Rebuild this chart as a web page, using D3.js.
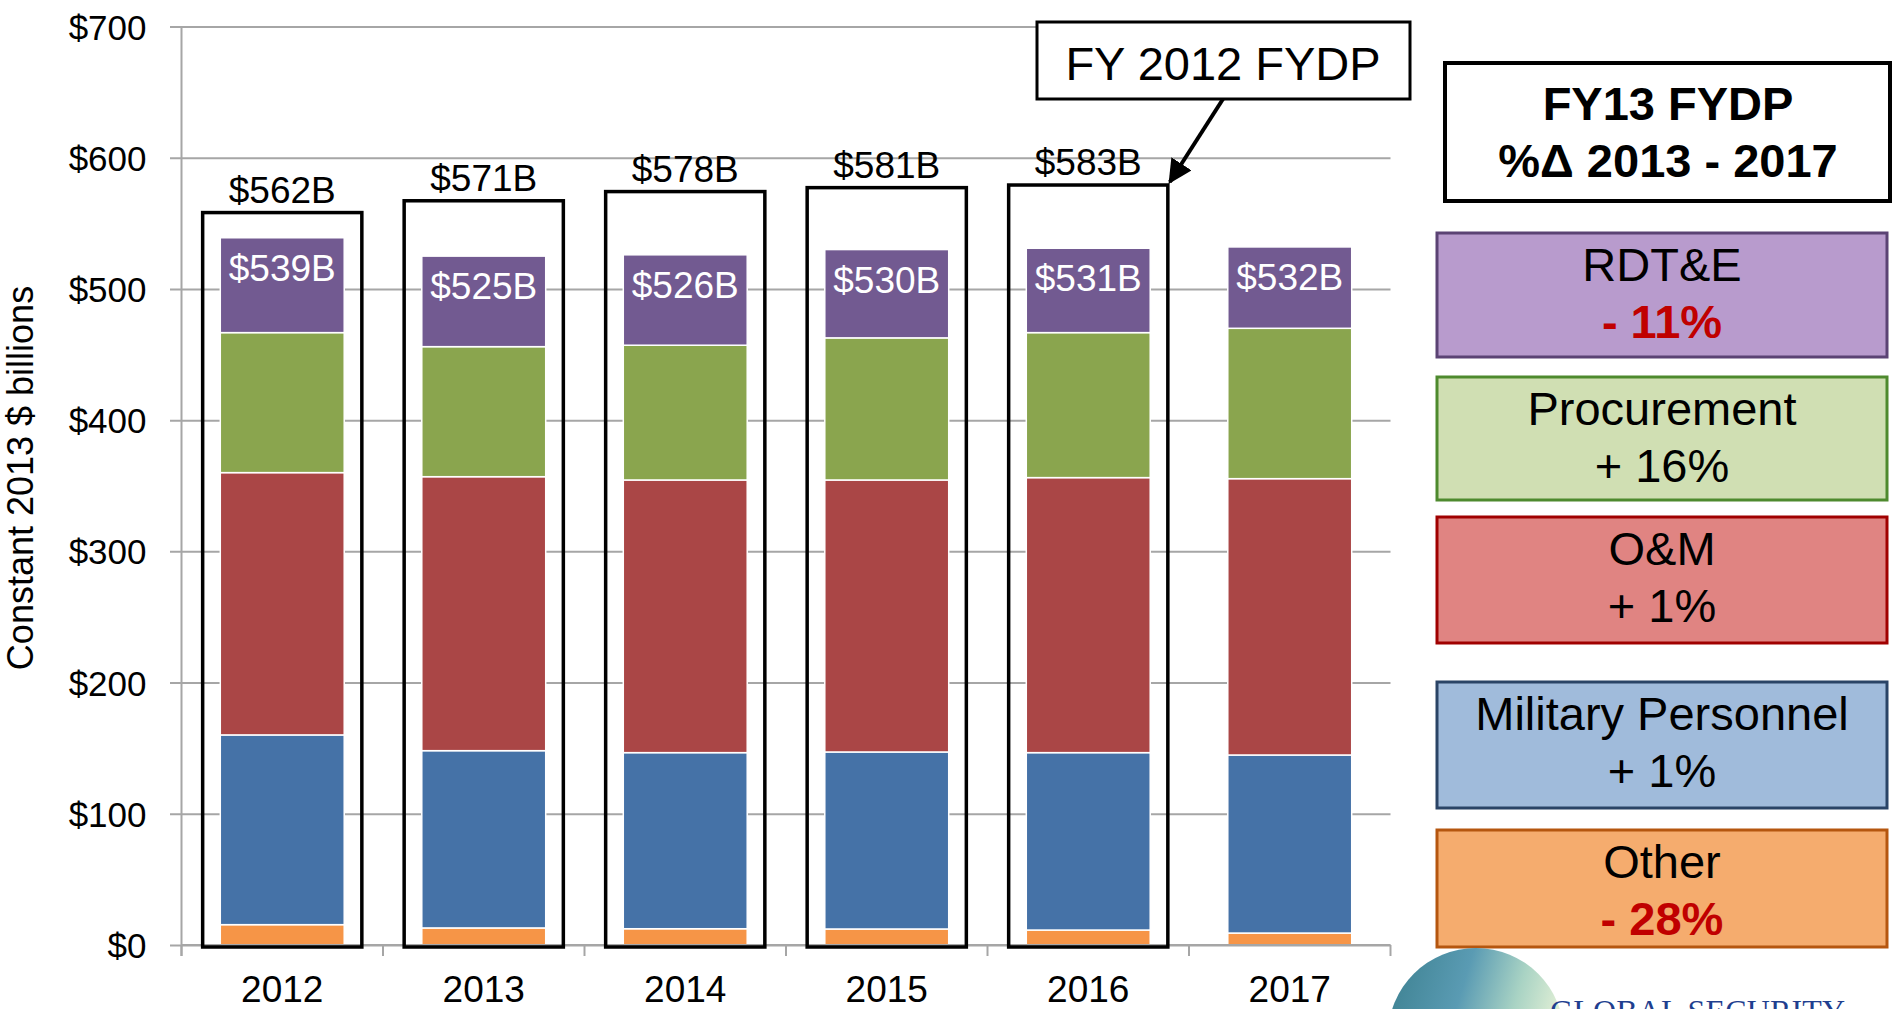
<!DOCTYPE html>
<html lang="en">
<head>
<meta charset="UTF-8">
<title>FY13 FYDP</title>
<style>
  html, body { margin: 0; padding: 0; background: #fff; }
  svg { display: block; font-family: "Liberation Sans", Arial, sans-serif; }
</style>
</head>
<body>
<svg id="chart" width="1893" height="1009"></svg>
<script src="https://cdn.jsdelivr.net/npm/d3@7"></script>
<script>
// data (constant 2013 $ billions)
const years = ["2012", "2013", "2014", "2015", "2016", "2017"];
const other = [15.5, 13.0, 12.4, 12.2, 11.4, 9.1];
const milpers = [144.6, 135.1, 134.2, 134.9, 135.2, 135.7];
const om = [199.9, 208.8, 207.8, 207.3, 209.6, 210.6];
const procurement = [106.7, 99.1, 102.7, 108.3, 110.5, 114.6];
const rdte = [72.3, 69.0, 68.9, 67.3, 64.3, 62.0];
const fy13Totals = [539, 525, 526, 530, 531, 532];

const fy12Years = ["2012", "2013", "2014", "2015", "2016"];
const fy12Totals = [562, 571, 578, 581, 583];

const yTicks = [0, 100, 200, 300, 400, 500, 600, 700];

const seriesNames = ["Other", "Military Personnel", "O&M", "Procurement", "RDT&E"];
const seriesColors = ["#f69547", "#4572a7", "#aa4646", "#8aa54e", "#725a91"];

const legendNames = ["RDT&E", "Procurement", "O&M", "Military Personnel", "Other"];
const legendChanges = ["- 11%", "+ 16%", "+ 1%", "+ 1%", "- 28%"];
const legendFill = ["#b89bcd", "#d0dfb3", "#e08482", "#a0bbdb", "#f5ac6e"];
const legendStroke = ["#5b4374", "#4e8a2e", "#a00000", "#2a4466", "#b5560f"];

// layout
const svg = d3.select("#chart");
const plotLeft = 181.5, plotRight = 1390.5, plotTop = 26.5, plotBottom = 945;

const x = d3.scaleBand().domain(years).range([plotLeft, plotRight]);
const y = d3.scaleLinear().domain([0, 700]).range([plotBottom, plotTop]);
const band = x.bandwidth();
const barW = band * 0.615;
const boxW = band * 0.79;

// y axis with gridlines
const yAxis = svg.append("g")
  .attr("transform", "translate(" + plotLeft + ",0)")
  .call(d3.axisLeft(y).tickValues(yTicks).tickFormat(d => "$" + d).tickSize(0));
yAxis.select(".domain").remove();
yAxis.selectAll(".tick line")
  .attr("x1", -11.5).attr("x2", plotRight - plotLeft)
  .attr("stroke", "#a6a6a6").attr("stroke-width", 2);
yAxis.selectAll(".tick text")
  .attr("x", -35).attr("dy", "0.36em")
  .attr("font-size", 35).attr("fill", "#000")
  .attr("font-family", "Liberation Sans, Arial, sans-serif");

// vertical axis line
svg.append("line")
  .attr("x1", plotLeft).attr("x2", plotLeft)
  .attr("y1", plotTop).attr("y2", plotBottom + 11)
  .attr("stroke", "#a6a6a6").attr("stroke-width", 2);

// stacked bars
const table = years.map((yr, i) => ({
  year: yr, "Other": other[i], "Military Personnel": milpers[i],
  "O&M": om[i], "Procurement": procurement[i], "RDT&E": rdte[i]
}));
const stack = d3.stack().keys(seriesNames)(table);

svg.append("g").selectAll("g")
  .data(stack).join("g")
  .attr("fill", (d, i) => seriesColors[i])
  .selectAll("rect")
  .data(d => d).join("rect")
  .attr("x", d => x(d.data.year) + (band - barW) / 2)
  .attr("width", barW)
  .attr("y", d => y(d[1]))
  .attr("height", d => y(d[0]) - y(d[1]))
  .attr("stroke", "#fff").attr("stroke-width", 1.5);

// x axis
const xAxis = svg.append("g")
  .attr("transform", "translate(0," + plotBottom + ")")
  .call(d3.axisBottom(x).tickSize(0));
xAxis.select(".domain").remove();
xAxis.selectAll(".tick text")
  .attr("y", 57).attr("dy", 0)
  .attr("font-size", 37).attr("fill", "#000")
  .attr("font-family", "Liberation Sans, Arial, sans-serif");

svg.append("line")
  .attr("x1", plotLeft).attr("x2", plotRight)
  .attr("y1", plotBottom).attr("y2", plotBottom)
  .attr("stroke", "#a6a6a6").attr("stroke-width", 2);
svg.append("g").selectAll("line")
  .data(years.map(d => x(d)).concat([plotRight]))
  .join("line")
  .attr("x1", d => d).attr("x2", d => d)
  .attr("y1", plotBottom).attr("y2", plotBottom + 11)
  .attr("stroke", "#a6a6a6").attr("stroke-width", 2);

// FY 2012 FYDP outline boxes
const fy12 = svg.append("g");
fy12.selectAll("rect")
  .data(fy12Years).join("rect")
  .attr("x", d => x(d) + (band - boxW) / 2)
  .attr("width", boxW)
  .attr("y", (d, i) => y(fy12Totals[i]) + 5)
  .attr("height", (d, i) => y(0) - y(fy12Totals[i]) - 3)
  .attr("fill", "none").attr("stroke", "#000").attr("stroke-width", 3.5);
fy12.selectAll("text")
  .data(fy12Years).join("text")
  .attr("x", d => x(d) + band / 2)
  .attr("y", (d, i) => y(fy12Totals[i]) - 5)
  .attr("text-anchor", "middle").attr("font-size", 37)
  .text((d, i) => "$" + fy12Totals[i] + "B");

// FY13 totals inside the top segment
svg.append("g").selectAll("text")
  .data(years).join("text")
  .attr("x", d => x(d) + band / 2)
  .attr("y", (d, i) => y(fy13Totals[i]) + 43)
  .attr("text-anchor", "middle").attr("font-size", 37).attr("fill", "#fff")
  .text((d, i) => "$" + fy13Totals[i] + "B");

// y title
svg.append("text")
  .attr("transform", "translate(33,478) rotate(-90)")
  .attr("text-anchor", "middle").attr("font-size", 36)
  .text("Constant 2013 $ billions");

// callout "FY 2012 FYDP"
const tipX = x("2016") + (band + boxW) / 2;
const tipY = y(583) + 5;
svg.append("defs").append("marker")
  .attr("id", "arrow").attr("viewBox", "0 0 10 10")
  .attr("refX", 9).attr("refY", 5)
  .attr("markerWidth", 6).attr("markerHeight", 6)
  .attr("orient", "auto")
  .append("path").attr("d", "M0,0 L10,5 L0,10 Z").attr("fill", "#000");
svg.append("line")
  .attr("x1", 1223).attr("y1", 99)
  .attr("x2", tipX + 2).attr("y2", tipY - 3)
  .attr("stroke", "#000").attr("stroke-width", 4)
  .attr("marker-end", "url(#arrow)");
svg.append("rect")
  .attr("x", 1037).attr("y", 22).attr("width", 373).attr("height", 77)
  .attr("fill", "#fff").attr("stroke", "#000").attr("stroke-width", 3);
svg.append("text")
  .attr("x", 1223).attr("y", 80).attr("text-anchor", "middle")
  .attr("font-size", 47).text("FY 2012 FYDP");

// header box
svg.append("rect")
  .attr("x", 1445).attr("y", 63).attr("width", 445).attr("height", 138)
  .attr("fill", "#fff").attr("stroke", "#000").attr("stroke-width", 4);
svg.append("text")
  .attr("x", 1668).attr("y", 120).attr("text-anchor", "middle")
  .attr("font-size", 47).attr("font-weight", "bold").text("FY13 FYDP");
svg.append("text")
  .attr("x", 1668).attr("y", 177).attr("text-anchor", "middle")
  .attr("font-size", 47).attr("font-weight", "bold").text("%Δ 2013 - 2017");

// legend boxes
const legendTop = [233, 377, 517, 682, 830];
const legendH = [124, 123, 126, 126, 117];
const lg = svg.append("g").selectAll("g")
  .data(legendNames).join("g")
  .attr("transform", (d, i) => "translate(1437," + legendTop[i] + ")");
lg.append("rect")
  .attr("width", 450).attr("height", (d, i) => legendH[i])
  .attr("fill", (d, i) => legendFill[i])
  .attr("stroke", (d, i) => legendStroke[i]).attr("stroke-width", 3);
lg.append("text")
  .attr("x", 225).attr("y", 48).attr("text-anchor", "middle")
  .attr("font-size", 47).text(d => d);
lg.append("text")
  .attr("x", 225).attr("y", 105).attr("text-anchor", "middle")
  .attr("font-size", 47)
  .attr("font-weight", (d, i) => legendChanges[i][0] === "-" ? "bold" : "normal")
  .attr("fill", (d, i) => legendChanges[i][0] === "-" ? "#c00000" : "#000")
  .text((d, i) => legendChanges[i]);

// logo (cut off at the bottom)
const grad = svg.select("defs").append("linearGradient")
  .attr("id", "globe").attr("x1", "0").attr("y1", "0").attr("x2", "1").attr("y2", "0.3");
grad.append("stop").attr("offset", "0").attr("stop-color", "#3b7f8e");
grad.append("stop").attr("offset", "0.45").attr("stop-color", "#5a9bb3");
grad.append("stop").attr("offset", "0.75").attr("stop-color", "#a9d3c4");
grad.append("stop").attr("offset", "1").attr("stop-color", "#e3f0d6");
svg.append("circle")
  .attr("cx", 1476).attr("cy", 1036).attr("r", 88)
  .attr("fill", "url(#globe)");
svg.append("text")
  .attr("x", 1550).attr("y", 1022)
  .attr("font-family", "Liberation Serif, Times New Roman, serif")
  .attr("font-size", 32).attr("fill", "#1f3f8f")
  .attr("textLength", 295)
  .text("GLOBAL SECURITY");
</script>
</body>
</html>
